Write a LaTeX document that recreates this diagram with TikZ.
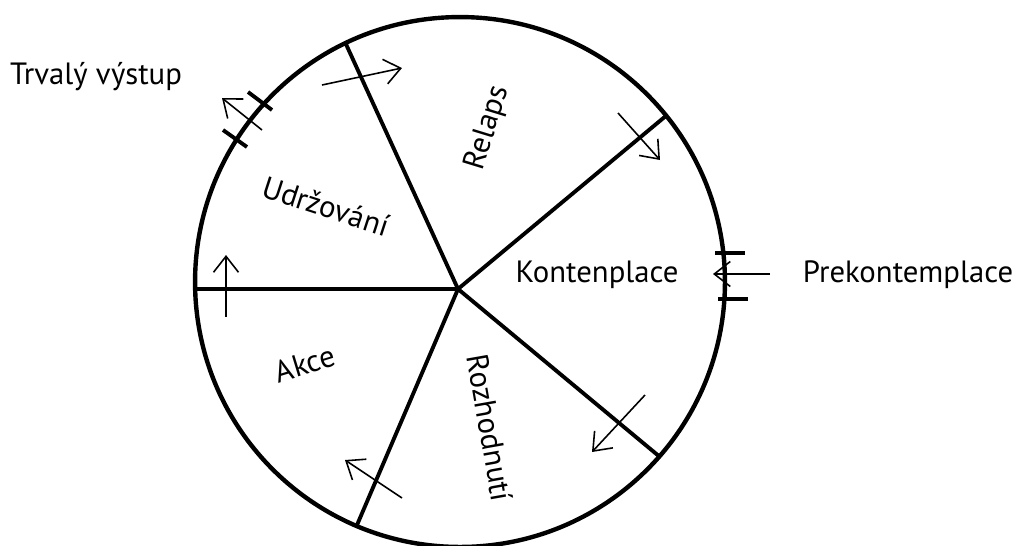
\documentclass[tikz,border=0pt]{standalone}
\usepackage{fontspec}
\setmainfont{PT Sans}
\usetikzlibrary{arrows.meta}

\begin{document}
\begin{tikzpicture}[
          x=0.02cm, y=-0.02cm,
          rim/.style={line width=2.5pt},
          spoke/.style={line width=2.2pt},
          bar/.style={line width=2.2pt},
          arr/.style={-{Straight Barb[length=3.2mm,width=5mm]}, line width=0.9pt},
          lbl/.style={font=\fontsize{17.5}{20}\selectfont, inner sep=0pt}
        ]
        \useasboundingbox (0,0) rectangle (1017,545);
        % wheel
        \coordinate (mid) at (460,282);
        \coordinate (hub) at (458,289);
        \draw[rim] (mid) circle[radius=5.3cm];
        \coordinate (r1) at (345,42);
        \coordinate (r2) at (667,115);
        \coordinate (r3) at (660,457);
        \coordinate (r4) at (357,525);
        \coordinate (r5) at (196,289);
        \foreach \r in {r1,r2,r3,r4,r5}
          \draw[spoke] (hub) -- (\r);
        % stage labels
        \node[lbl, rotate=73]  (relaps) at (488,128) {Relaps};
        \node[lbl]             (kont)   at (597,275) {Kontenplace};
        \node[lbl, rotate=-80] (rozh)   at (490,428) {Rozhodnutí};
        \node[lbl, rotate=17]  (akce)   at (305,364) {Akce};
        \node[lbl, rotate=-18] (udrz)   at (326,206) {Udržování};
        % entry and exit
        \node[lbl] (prek)  at (908,275) {Prekontemplace};
        \node[lbl] (vystup) at (96,77) {Trvalý výstup};
        % arrows across the spokes
        \coordinate (a1s) at (322,85);  \coordinate (a1e) at (402,68);
        \coordinate (a2s) at (618,113); \coordinate (a2e) at (660,160);
        \coordinate (a3s) at (770,274); \coordinate (a3e) at (713,274);
        \coordinate (a4s) at (645,395); \coordinate (a4e) at (592,452);
        \coordinate (a5s) at (402,498); \coordinate (a5e) at (345,460);
        \coordinate (a6s) at (226,317); \coordinate (a6e) at (226,255);
        \coordinate (a7s) at (262,130); \coordinate (a7e) at (222,98);
        \draw[arr] (a1s) -- (a1e);
        \draw[arr] (a2s) -- (a2e);
        \draw[arr] (a3s) -- (a3e);
        \draw[arr] (a4s) -- (a4e);
        \draw[arr] (a5s) -- (a5e);
        \draw[arr] (a6s) -- (a6e);
        \draw[arr] (a7s) -- (a7e);
        % gates on the rim
        \coordinate (g1s) at (715,253); \coordinate (g1e) at (745,253);
        \coordinate (g2s) at (718,299); \coordinate (g2e) at (748,299);
        \coordinate (g3s) at (248,92);  \coordinate (g3e) at (272,110);
        \coordinate (g4s) at (223,130); \coordinate (g4e) at (247,147);
        \draw[bar] (g1s) -- (g1e);
        \draw[bar] (g2s) -- (g2e);
        \draw[bar] (g3s) -- (g3e);
        \draw[bar] (g4s) -- (g4e);
      \end{tikzpicture}
\end{document}
